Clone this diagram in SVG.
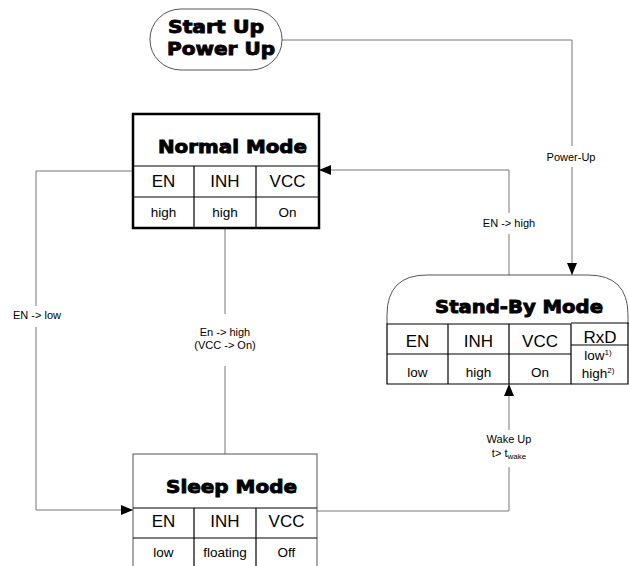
<svg xmlns="http://www.w3.org/2000/svg" width="629" height="566" viewBox="0 0 629 566">
<defs>
<marker id="arr" markerUnits="userSpaceOnUse" markerWidth="12" markerHeight="10" refX="12" refY="5" orient="auto">
<path d="M0,0 L12,5 L0,10 z" fill="#000"/>
</marker>
<style>
.title{font-family:"DejaVu Sans","Liberation Sans",sans-serif;font-weight:bold;font-size:18px;fill:#000;stroke:#000;stroke-width:0.9}
.hdr{font-family:"Liberation Sans",Arial,sans-serif;font-size:17px;fill:#000;text-anchor:middle}
.val{font-family:"Liberation Sans",Arial,sans-serif;font-size:13.5px;fill:#000;text-anchor:middle}
.lbl{font-family:"Liberation Sans",Arial,sans-serif;font-size:11px;fill:#000;text-anchor:middle}
.conn{fill:none;stroke:#777;stroke-width:1}
.cell{fill:none;stroke:#000;stroke-width:1.2}
.bg{fill:#fff}
</style>
</defs>
<rect width="629" height="566" fill="#fff"/>

<g id="connectors">
<path class="conn" d="M282,40 H572 V275" marker-end="url(#arr)"/>
<path class="conn" d="M509,275 V170 H319" marker-end="url(#arr)"/>
<path class="conn" d="M133,171 H36 V510 H133" marker-end="url(#arr)"/>
<path class="conn" d="M225,228 V454"/>
<path class="conn" d="M317,511 H509 V384" marker-end="url(#arr)"/>
<rect class="bg" x="538" y="146" width="66" height="21"/>
<text class="lbl" x="571" y="161">Power-Up</text>
<rect class="bg" x="476" y="213" width="66" height="21"/>
<text class="lbl" x="509" y="227">EN -&gt; high</text>
<rect class="bg" x="6" y="306" width="62" height="21"/>
<text class="lbl" x="37" y="319">EN -&gt; low</text>
<rect class="bg" x="188" y="314" width="74" height="52"/>
<text class="lbl" x="225" y="336">En -&gt; high</text>
<text class="lbl" x="225" y="349">(VCC -&gt; On)</text>
<rect class="bg" x="474" y="430" width="70" height="37"/>
<text class="lbl" x="509" y="443">Wake Up</text>
<text class="lbl" x="509" y="457">t&gt; t<tspan font-size="8" dy="2">wake</tspan></text>
</g>

<g id="start-up">
<rect x="150" y="9" width="132" height="61" rx="31" ry="30" fill="#fff" stroke="#555" stroke-width="1"/>
<text class="title" x="216" y="33" text-anchor="middle" font-size="17" textLength="96" lengthAdjust="spacingAndGlyphs">Start Up</text>
<text class="title" x="221" y="55" text-anchor="middle" font-size="17" textLength="108" lengthAdjust="spacingAndGlyphs">Power Up</text>
</g>

<g id="normal-mode">
<rect x="133" y="114" width="186" height="114" fill="#fff" stroke="#000" stroke-width="2.5"/>
<text class="title" x="158" y="153" textLength="149" lengthAdjust="spacingAndGlyphs">Normal Mode</text>
<path class="cell" d="M133,166 H319 M133,197 H319 M194,166 V228 M256,166 V228"/>
<text class="hdr" x="163.5" y="187">EN</text>
<text class="hdr" x="225" y="187">INH</text>
<text class="hdr" x="287.5" y="187">VCC</text>
<text class="val" x="163.5" y="217">high</text>
<text class="val" x="225" y="217">high</text>
<text class="val" x="287.5" y="217">On</text>
</g>

<g id="sleep-mode">
<rect x="133" y="454" width="184" height="120" fill="#fff" stroke="#555" stroke-width="1"/>
<text class="title" x="166" y="493" textLength="131" lengthAdjust="spacingAndGlyphs">Sleep Mode</text>
<path class="cell" d="M133,508 H317 M133,538 H317 M194,508 V566 M256,508 V566"/>
<text class="hdr" x="163.5" y="527">EN</text>
<text class="hdr" x="225" y="527">INH</text>
<text class="hdr" x="286.5" y="527">VCC</text>
<text class="val" x="163.5" y="557">low</text>
<text class="val" x="225" y="557">floating</text>
<text class="val" x="286.5" y="557">Off</text>
</g>

<g id="standby-mode">
<path d="M387,324 V315 Q387,275 427,275 H588 Q628,275 628,315 V324" fill="#fff" stroke="#555" stroke-width="1"/>
<text class="title" x="435" y="313" textLength="168" lengthAdjust="spacingAndGlyphs">Stand-By Mode</text>
<path class="cell" d="M387,324 H571 V384 H387 Z M387,354 H571 M448,324 V384 M509,324 V384"/>
<path class="cell" d="M571,323 H628 V384 H571 M571,345 H628"/>
<text class="hdr" x="417.5" y="347">EN</text>
<text class="hdr" x="478.5" y="347">INH</text>
<text class="hdr" x="540" y="347">VCC</text>
<text class="hdr" x="600" y="343">RxD</text>
<text class="val" x="417.5" y="377">low</text>
<text class="val" x="478.5" y="377">high</text>
<text class="val" x="540" y="377">On</text>
<text class="val" x="598" y="360" font-size="12">low<tspan font-size="8" dy="-5">1)</tspan></text>
<text class="val" x="598" y="378" font-size="12">high<tspan font-size="8" dy="-5">2)</tspan></text>
</g>
</svg>
